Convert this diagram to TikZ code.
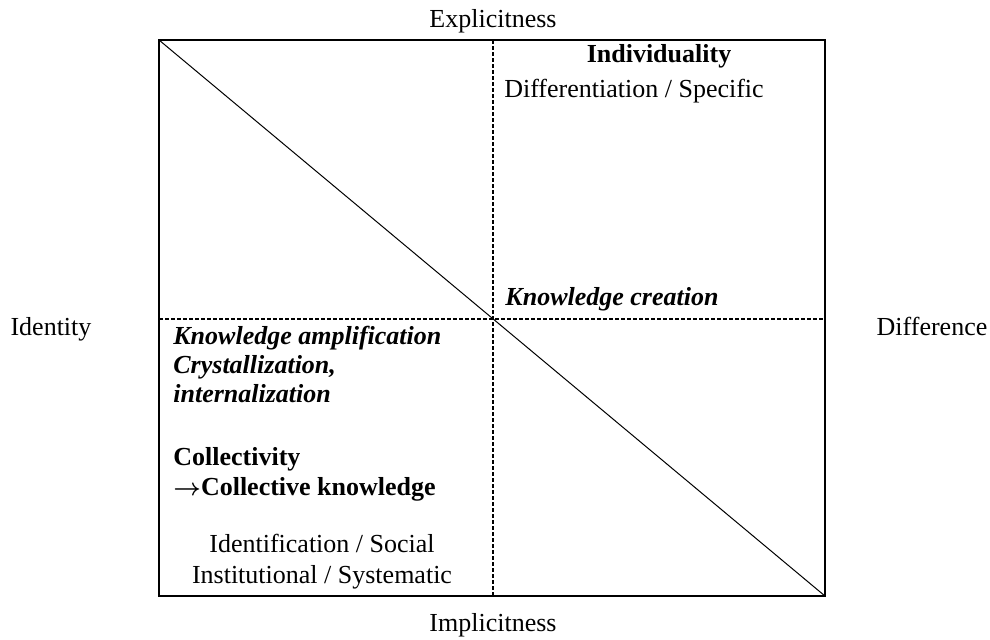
\documentclass[tikz,border=0pt]{standalone}
\usepackage{fontspec}
\setmainfont{Liberation Serif}

\begin{document}
\begin{tikzpicture}[x=0.5pt, y=-0.5pt, font=\fontsize{13}{14.5}\selectfont,
	lbl/.style={inner sep=0pt, anchor=base},
	lft/.style={inner sep=0pt, anchor=base west},
	quad/.style={dash pattern=on 2pt off 1pt, line width=0.6pt}]
	\useasboundingbox (0,0) rectangle (990,639);

	% corners of the box
	\coordinate (TL) at (159,40);
	\coordinate (BR) at (825,596);
	\coordinate (TM) at (493,40);
	\coordinate (BM) at (493,596);
	\coordinate (LM) at (159,319);
	\coordinate (RM) at (825,319);

	\draw[quad] (TM) -- (BM);
	\draw[quad] (LM) -- (RM);
	\draw[line width=0.5pt] (TL) -- (BR);
	\draw[line width=1pt] (TL) rectangle (BR);

	% axis labels
	\node[lbl] (expl) at (493,27) {Explicitness};
	\node[lbl] (impl) at (493,631) {Implicitness};
	\node[lbl] (iden) at (51,335) {Identity};
	\node[lbl] (diff) at (932,335) {Difference};

	% upper right
	\node[lbl] (indiv) at (659,62) {\textbf{Individuality}};
	\node[lbl] (spec) at (634,97) {Differentiation / Specific};
	\node[lbl] (creat) at (612,305) {\textbf{\textit{Knowledge creation}}};

	% lower left
	\node[lft] (ampl) at (173,344) {\textbf{\textit{Knowledge amplification}}};
	\node[lft] (cryst) at (173,373) {\textbf{\textit{Crystallization,}}};
	\node[lft] (intern) at (173,402) {\textbf{\textit{internalization}}};
	\node[lft] (coll) at (173,465) {\textbf{Collectivity}};
	\node[lft] (collk) at (173,495) {{\boldmath$\rightarrow$}\textbf{Collective knowledge}};
	\node[lbl] (social) at (322,552) {Identification / Social};
	\node[lbl] (syst) at (322,583) {Institutional / Systematic};

\end{tikzpicture}
\end{document}
